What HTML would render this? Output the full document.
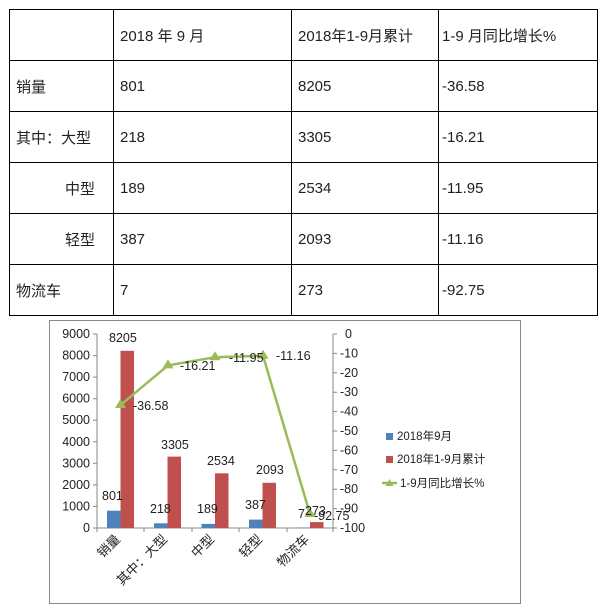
<!DOCTYPE html>
<html><head><meta charset="utf-8"><style>
body{margin:0;width:600px;height:613px;background:#fff;overflow:hidden;font-family:"Liberation Sans","Noto Sans CJK SC",sans-serif;}
table{position:absolute;left:9px;top:9px;border-collapse:collapse;}
td{border:1px solid #000;height:51px;padding:0 0 0 6px;font-size:15px;color:#222;vertical-align:middle;box-sizing:border-box;}
</style></head><body>
<table>
<tr><td style="width:104px"></td><td style="width:178px">2018 年 9 月</td><td style="width:147px">2018年1-9月累计</td><td style="width:159px;padding-left:3px">1-9 月同比增长%</td></tr>
<tr><td>销量</td><td>801</td><td>8205</td><td style="padding-left:3px">-36.58</td></tr>
<tr><td>其中：大型</td><td>218</td><td>3305</td><td style="padding-left:3px">-16.21</td></tr>
<tr><td style="padding-left:55px">中型</td><td>189</td><td>2534</td><td style="padding-left:3px">-11.95</td></tr>
<tr><td style="padding-left:55px">轻型</td><td>387</td><td>2093</td><td style="padding-left:3px">-11.16</td></tr>
<tr><td>物流车</td><td>7</td><td>273</td><td style="padding-left:3px">-92.75</td></tr>
</table>
<svg width="600" height="613" style="position:absolute;left:0;top:0" font-family="Liberation Sans, Noto Sans CJK SC, sans-serif" font-size="12.5" fill="#222">
<rect x="49.5" y="320.5" width="471" height="283" fill="none" stroke="#888"/>
<g stroke="#888" fill="none">
<line x1="97" y1="334" x2="97" y2="528"/><line x1="333" y1="334" x2="333" y2="528"/>
<line x1="97" y1="528" x2="333" y2="528"/>
<path d="M97 528v4M144 528v4M192 528v4M239 528v4M287 528v4M333 528v4"/>
<path d="M93 334h4M93 355.6h4M93 377.1h4M93 398.7h4M93 420.2h4M93 441.8h4M93 463.3h4M93 484.9h4M93 506.4h4M93 528h4"/>
<path d="M333 334h4M333 353.4h4M333 372.8h4M333 392.2h4M333 411.6h4M333 431h4M333 450.4h4M333 469.8h4M333 489.2h4M333 508.6h4M333 528h4"/>
</g>
<g text-anchor="end">
<text x="90" y="338">9000</text><text x="90" y="359.6">8000</text><text x="90" y="381">7000</text><text x="90" y="402.7">6000</text><text x="90" y="424">5000</text><text x="90" y="445.8">4000</text><text x="90" y="467.3">3000</text><text x="90" y="488.9">2000</text><text x="90" y="510.4">1000</text><text x="90" y="532">0</text>
</g>
<g>
<text x="345" y="338">0</text><text x="340" y="357.4">-10</text><text x="340" y="376.8">-20</text><text x="340" y="396.2">-30</text><text x="340" y="415.6">-40</text><text x="340" y="435">-50</text><text x="340" y="454.4">-60</text><text x="340" y="473.8">-70</text><text x="340" y="493.2">-80</text><text x="340" y="512.6">-90</text><text x="340" y="532">-100</text>
</g>
<g fill="#4f81bd">
<rect x="107" y="510.7" width="13.5" height="17.3"/><rect x="154" y="523.3" width="13.5" height="4.7"/><rect x="201.5" y="523.9" width="13.5" height="4.1"/><rect x="249" y="519.6" width="13.5" height="8.4"/><rect x="296.5" y="527.6" width="13.5" height="0.4"/>
</g>
<g fill="#c0504d">
<rect x="120.5" y="350.8" width="13.5" height="177.2"/><rect x="167.5" y="456.6" width="13.5" height="71.4"/><rect x="215" y="473.3" width="13.5" height="54.7"/><rect x="262.5" y="482.8" width="13.5" height="45.2"/><rect x="310" y="522.1" width="13.5" height="5.9"/>
</g>
<polyline points="120.5,405 168,365.4 215,357.2 263,355.7 310,514" fill="none" stroke="#9bbb59" stroke-width="2.5"/>
<g fill="#9bbb59">
<path d="M120.5 399l5.5 9h-11z"/><path d="M168 359.4l5.5 9h-11z"/><path d="M215 351.2l5.5 9h-11z"/><path d="M263 349.7l5.5 9h-11z"/><path d="M310 508l5.5 9h-11z"/>
</g>
<g>
<text x="109" y="342">8205</text><text x="102" y="500">801</text>
<text x="161" y="449">3305</text><text x="150" y="513">218</text>
<text x="207" y="465">2534</text><text x="197" y="513">189</text>
<text x="256" y="474">2093</text><text x="245" y="509">387</text>
<text x="298" y="518">7</text><text x="305" y="515">273</text>
<text x="133" y="410">-36.58</text><text x="180" y="370">-16.21</text><text x="229" y="362">-11.95</text><text x="276" y="360">-11.16</text><text x="314" y="520">-92.75</text>
</g>
<g font-size="13" text-anchor="end">
<text transform="translate(121,540) rotate(-45)">销量</text>
<text transform="translate(168,540) rotate(-45)">其中：大型</text>
<text transform="translate(215,540) rotate(-45)">中型</text>
<text transform="translate(263,540) rotate(-45)">轻型</text>
<text transform="translate(310,540) rotate(-45)">物流车</text>
</g>
<g font-size="11.5">
<rect x="386" y="433" width="7" height="7" fill="#4f81bd"/><text x="397" y="440">2018年9月</text>
<rect x="386" y="456" width="7" height="7" fill="#c0504d"/><text x="397" y="463">2018年1-9月累计</text>
<line x1="382" y1="483" x2="397" y2="483" stroke="#9bbb59" stroke-width="2.5"/><path d="M389.5 479l4 7h-8z" fill="#9bbb59"/><text x="400" y="487">1-9月同比增长%</text>
</g>
</svg>
</body></html>
